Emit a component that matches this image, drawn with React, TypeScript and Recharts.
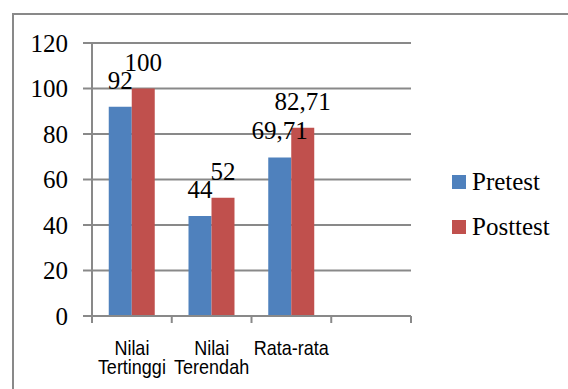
import React from 'react';
import { BarChart, Bar, XAxis, YAxis, CartesianGrid, Legend, LabelList } from 'recharts';

const categories = ['Nilai Tertinggi', 'Nilai Terendah', 'Rata-rata', ''];
const pretest = [92, 44, 69.71, null];
const posttest = [100, 52, 82.71, null];
const yTicks = [0, 20, 40, 60, 80, 100, 120];
const seriesNames = ['Pretest', 'Posttest'];
const seriesColors = ['#4F81BD', '#C0504D'];

const data = categories.map((name, i) => ({ name, pretest: pretest[i], posttest: posttest[i] }));

const SERIF = 'Liberation Serif, Tinos, Times New Roman, DejaVu Serif, serif';
const SANS = 'Liberation Sans, Arial, sans-serif';
const GRID = '#898989';

const fmt = (v: any) => (v == null ? '' : String(v).replace('.', ','));

const XTick = (props: any) => {
  const { x, y, payload, width, visibleTicksCount, index } = props;
  const lines = String(payload.value).split(' ').filter((s) => s.length);
  const half = payload && typeof payload.offset === 'number' && payload.offset > 0
    ? payload.offset
    : width / (visibleTicksCount || 1) / 2;
  const isLast = index === (visibleTicksCount || 0) - 1;
  return (
    <g transform={`translate(${x},${y})`}>
      <line x1={-half} y1={0} x2={-half} y2={7} stroke={GRID} strokeWidth={2} />
      {isLast && <line x1={half} y1={0} x2={half} y2={7} stroke={GRID} strokeWidth={2} />}
      <text transform="scale(0.9,1)" textAnchor="middle" fill="#000" fontSize={20} style={{ fontFamily: SANS }}>
        {lines.map((l, i) => (
          <tspan key={i} x={0} y={39 + i * 19}>{l}</tspan>
        ))}
      </text>
    </g>
  );
};

const renderLegend = () => (
  <div>
    {seriesNames.map((name, i) => (
      <div key={name} style={{ display: 'flex', alignItems: 'center', height: 45 }}>
        <div style={{ width: 14, height: 14, background: seriesColors[i], marginRight: 6 }} />
        <span style={{ fontFamily: SERIF, fontSize: 25, color: '#000', lineHeight: 1 }}>{name}</span>
      </div>
    ))}
  </div>
);

export default function App() {
  return (
    <div style={{ position: 'fixed', left: 0, top: 0, width: 568, height: 389, overflow: 'hidden', background: '#fff' }}>
      <div
        style={{
          position: 'absolute', left: 12, top: 13, width: 640, height: 440,
          border: `2px solid ${GRID}`, boxSizing: 'border-box',
        }}
      />
      <div style={{ position: 'absolute', left: 0, top: 0 }}>
        <BarChart
          width={568}
          height={389}
          data={data}
          margin={{ top: 43, right: 157, bottom: 0, left: 0 }}
          barCategoryGap="21%"
          barGap={0}
        >
          <CartesianGrid horizontal vertical={false} stroke={GRID} strokeWidth={2} />
          <XAxis
            dataKey="name"
            height={73}
            interval={0}
            tickLine={false}
            tickSize={0}
            tickMargin={0}
            axisLine={{ stroke: GRID, strokeWidth: 2 }}
            tick={<XTick />}
          />
          <YAxis
            width={92}
            domain={[0, 120]}
            ticks={yTicks}
            interval={0}
            tickSize={9}
            tickMargin={15}
            axisLine={{ stroke: GRID, strokeWidth: 2 }}
            tickLine={{ stroke: GRID, strokeWidth: 2 }}
            tick={{ fill: '#000', fontSize: 25, style: { fontFamily: SERIF } }}
          />
          <Legend
            layout="vertical"
            align="center"
            verticalAlign="middle"
            wrapperStyle={{ left: 452, top: 159, width: 114, height: 90 }}
            content={renderLegend}
          />
          <Bar dataKey="pretest" name={seriesNames[0]} fill={seriesColors[0]} isAnimationActive={false}>
            <LabelList dataKey="pretest" position="top" offset={18} formatter={fmt} fill="#000" fontSize={25} style={{ fontFamily: SERIF }} />
          </Bar>
          <Bar dataKey="posttest" name={seriesNames[1]} fill={seriesColors[1]} isAnimationActive={false}>
            <LabelList dataKey="posttest" position="top" offset={18} formatter={fmt} fill="#000" fontSize={25} style={{ fontFamily: SERIF }} />
          </Bar>
        </BarChart>
      </div>
    </div>
  );
}
